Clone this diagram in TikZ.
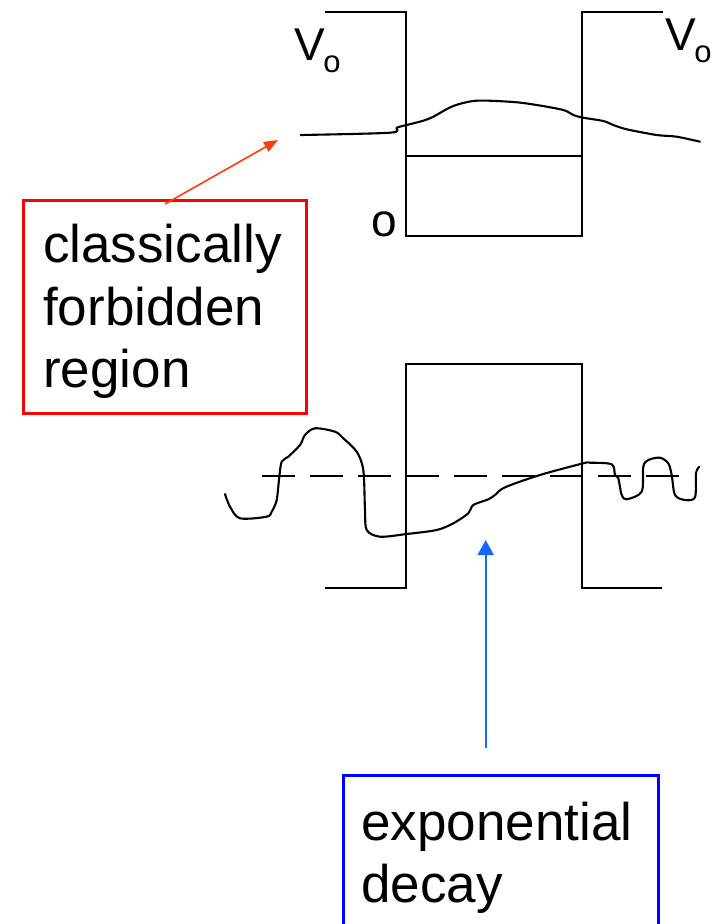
\documentclass[tikz,border=0pt]{standalone}
\usepackage{fontspec}
\setmainfont{Liberation Sans}
\usetikzlibrary{arrows.meta}
\definecolor{boxred}{RGB}{255,0,0}
\definecolor{arrowred}{RGB}{255,60,10}
\definecolor{boxblue}{RGB}{0,0,255}
\definecolor{arrowblue}{RGB}{20,105,255}
\tikzset{
  wellline/.style={line width=2pt, line join=miter},
  wave/.style={line width=2.1pt, line cap=round, line join=round},
  bigtext/.style={anchor=base west, inner sep=0pt, font=\fontsize{53}{62.5}\selectfont},
  vlabel/.style={anchor=base west, inner sep=0pt, font=\fontsize{46}{46}\selectfont},
  labelbox/.style={draw, line width=3pt, inner sep=0pt, anchor=north west},
}
\newcommand{\Vsub}{V\kern-1.5pt\raisebox{-12.5pt}{\fontsize{31}{31}\selectfont o}}
\begin{document}
\begin{tikzpicture}[x=1pt, y=-1pt]
  \useasboundingbox (0,0) rectangle (716,924);

  % ---------- upper picture: finite well with a bound state ----------
  \draw[wellline] (325,12) -- (406,12) -- (406,236) -- (582,236) -- (582,12) -- (663,12);
  \draw[wellline] (406,156) -- (582,156);
  \node[vlabel] (vleft) at (294,60) {\Vsub};
  \node[vlabel] (vright) at (665,50) {\Vsub};
  \node[vlabel] (zero) at (371.5,236) {o};
  \draw[wave] plot[smooth, tension=0.5] coordinates {
    (300.7,135) (390,132.7) (396.7,127.7) (406.7,125) (423.3,120.7) (433.3,116.7)
    (453.3,106) (476.7,100.7) (513.3,102) (536.7,105) (563.3,110) (573.3,115)
    (583.3,117.7) (603.3,121) (613.3,125) (626.7,129.3) (656.7,135) (676.7,136.7) (700,141.7)};

  % ---------- label: classically forbidden region ----------
  \node[labelbox, draw=boxred, minimum width=283pt, minimum height=213pt] (cfbox) at (22,199) {};
  \node[bigtext] (cf1) at (43,262.5) {classically};
  \node[bigtext] (cf2) at (43,325) {forbidden};
  \node[bigtext] (cf3) at (43,387.5) {region};
  \coordinate (cfstart) at (165,204);
  \coordinate (cftip) at (278,140);
  \draw[arrowred, line width=1.6pt, -{Triangle[length=14pt, width=11pt]}] (cfstart) -- (cftip);

  % ---------- lower picture: barrier with tunnelling wave ----------
  \draw[wellline] (325,588) -- (406,588) -- (406,364) -- (582,364) -- (582,588) -- (662,588);
  \draw[line width=2pt, dash pattern=on 33pt off 15pt] (261.7,476) -- (678.7,476);
  \draw[wave] plot[smooth, tension=0.5] coordinates {
    (225,494) (230,506.7) (240,518.3) (266.7,516.7) (271.7,511.7) (276.7,500)
    (279.3,476.7) (281.7,461.7) (288.3,456.7) (300,445) (305,435) (315,428.3)
    (335,431.7) (343.3,438.3) (356.7,451.7) (363.3,470) (365,510) (366.7,530)
    (380,536.7) (406.7,534) (436.7,530) (453.3,523.3) (468.3,513.3) (473.3,505)
    (488.3,499.3) (495,495) (505,487.3) (540,475) (583.3,463.3) (590,462.7)
    (611.7,464.3) (615,475) (618.3,478.3) (621.7,495) (626.7,499.3) (641.7,491.7)
    (643.3,466.7) (648.3,460) (660,457.7) (668.3,463.3) (671.7,475) (675,495)
    (685,500) (695,497.3) (696,473.3) (699.3,466.7)};

  % ---------- label: exponential decay ----------
  \coordinate (edstart) at (485.7,748);
  \coordinate (edtip) at (485.7,540);
  \draw[arrowblue, line width=2pt, -{Triangle[length=15pt, width=16pt]}] (edstart) -- (edtip);
  \node[labelbox, draw=boxblue, minimum width=315pt, minimum height=151pt] (edbox) at (342,774) {};
  \node[bigtext] (ed1) at (361,840) {exponential};
  \node[bigtext] (ed2) at (361,902) {decay};
\end{tikzpicture}
\end{document}
